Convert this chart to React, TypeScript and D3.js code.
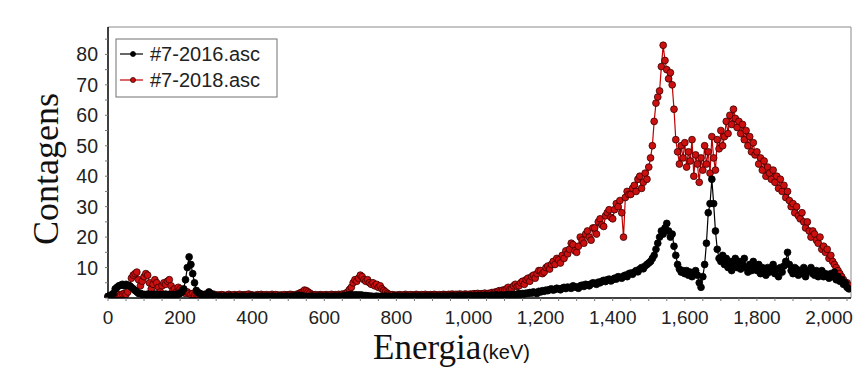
import * as d3 from 'd3';
import { useMemo } from 'react';

// energy channels (keV), 5 keV step: 0 .. 2055
const energy: number[] = d3.range(0, 2060, 5);

// #7-2016.asc counts, one row = 100 keV
const counts2016: number[] = [
  0.5, 0.8, 1, 1.5, 3, 3.5, 4, 4.2, 4.5, 4, 4.5, 4.2, 4, 3.5, 3, 2.5, 2, 1.5, 1.5, 1.2,
  1.2, 1, 1.3, 1, 1.2, 1, 1.3, 1.1, 1, 1.2, 1, 1.1, 1.3, 1, 1.2, 1, 1.1, 1, 1.3, 1.2,
  1.5, 2, 3, 6, 10, 13.5, 11, 8, 5, 2.5, 1.8, 1.5, 1.2, 1, 1, 1.2, 2, 1.5, 1.2, 0.8,
  0.6, 0.5, 0.6, 0.5, 0.4, 0.6, 0.5, 0.5, 0.6, 0.4, 0.5, 0.6, 0.5, 0.4, 0.5, 0.6, 0.5, 0.5, 0.4, 0.6,
  0.6, 0.5, 0.6, 0.5, 0.4, 0.6, 0.5, 0.5, 0.6, 0.4, 0.5, 0.6, 0.5, 0.4, 0.5, 0.6, 0.5, 0.5, 0.4, 0.6,
  0.5, 0.5, 0.6, 0.5, 0.7, 0.8, 0.9, 0.8, 0.6, 0.5, 0.5, 0.4, 0.5, 0.6, 0.5, 0.4, 0.5, 0.6, 0.5, 0.5,
  0.5, 0.6, 0.5, 0.5, 0.4, 0.5, 0.6, 0.5, 0.6, 0.5, 0.6, 0.7, 0.8, 0.9, 1, 1, 0.9, 1, 1, 0.9,
  1, 0.9, 0.8, 0.8, 0.7, 0.6, 0.6, 0.5, 0.5, 0.6, 0.5, 0.5, 0.4, 0.5, 0.6, 0.5, 0.5, 0.4, 0.5, 0.6,
  0.5, 0.6, 0.5, 0.4, 0.5, 0.6, 0.5, 0.5, 0.4, 0.5, 0.6, 0.5, 0.5, 0.6, 0.4, 0.5, 0.6, 0.5, 0.6, 0.5,
  0.6, 0.5, 0.5, 0.6, 0.4, 0.5, 0.6, 0.5, 0.6, 0.5, 0.6, 0.7, 0.6, 0.5, 0.6, 0.7, 0.6, 0.7, 0.6, 0.7,
  0.6, 0.7, 0.7, 0.6, 0.8, 0.7, 0.7, 0.8, 0.7, 0.9, 0.8, 0.7, 0.8, 0.9, 0.8, 1, 0.9, 0.8, 1, 0.9,
  0.8, 1, 1.1, 0.9, 1.2, 1.1, 1, 1.3, 1.4, 1.2, 1.5, 1.3, 1.6, 1.5, 1.8, 1.6, 2, 1.7, 1.5, 2.2,
  2, 2.4, 2.2, 2.6, 2.4, 2.8, 3, 2.6, 2.8, 3.2, 3, 2.7, 3.2, 3.5, 3.1, 3.6, 3.4, 3.2, 4, 3.7,
  3.5, 3.2, 4, 4.2, 3.8, 4.5, 4.3, 4, 4.6, 5, 4.8, 4.5, 5.2, 5, 5.5, 5.8, 5.4, 6, 6.2, 5.6,
  6, 6.5, 6.2, 7, 6.8, 6.5, 7.2, 7.5, 7, 8, 8.2, 7.8, 8.5, 9, 8.6, 9.5, 10, 9.6, 10.5, 11,
  11.5, 12, 13, 14, 16, 18, 20, 22, 21, 23, 24.5, 22, 20, 21, 17, 14, 11, 9.5, 8.5, 9,
  8, 9, 7.5, 8.5, 7, 8, 9, 7.5, 5, 3.5, 7, 11, 18, 28, 31, 39, 31, 22, 16, 13,
  12, 14, 11, 13, 10, 12, 9, 11, 13, 10, 12, 9.5, 11, 13, 10, 8.5, 11, 9, 12, 10,
  9, 11, 8, 10, 9.5, 7.5, 10, 8.5, 9, 11, 8, 9.5, 7, 10, 8.5, 10.5, 12, 15, 11, 9,
  8, 10, 9.5, 7.5, 9, 8, 10, 7, 8.5, 9, 10, 8, 7.5, 9, 7, 8.5, 9, 7, 8, 7.5,
  6.5, 8, 7, 8.5, 6, 7, 5.5, 6, 4.5, 5, 3.5, 3,
];

// #7-2018.asc counts, one row = 100 keV
const counts2018: number[] = [
  0.5, 0.6, 0.8, 1, 1, 1.2, 1.2, 1, 1.3, 1.5, 1.2, 2, 4, 6.5, 7.5, 8, 8.5, 6, 4, 5.5,
  7, 8, 7.5, 5, 3, 4.5, 6, 5, 3.5, 2, 4, 5, 4.5, 5.5, 6, 4, 2.5, 3, 2, 3.5,
  3, 2.5, 2, 1.5, 2, 1.5, 1.2, 1.5, 1, 1.2, 1, 1.2, 1, 0.9, 1.3, 1, 1.1, 0.9, 1, 1.2,
  0.8, 1, 0.9, 1.1, 1, 0.8, 0.9, 1.2, 1, 0.8, 1.1, 0.9, 1, 1.2, 0.9, 1, 1.1, 0.8, 1.3, 1,
  1, 0.8, 0.9, 1.1, 1, 1.2, 0.9, 1, 1.1, 0.8, 1, 1.2, 0.9, 1.1, 1, 0.8, 1, 0.9, 1.1, 1,
  1, 1.2, 1.1, 0.9, 1, 1.3, 1.4, 1.8, 2, 2.6, 2.4, 2, 1.6, 1.2, 1, 1.1, 0.9, 1, 1.1, 0.9,
  1, 1.1, 0.9, 1, 1.2, 1, 1.1, 0.9, 1.2, 1, 1.3, 1.2, 1.6, 2, 2.8, 3.5, 5, 6, 5.5, 6.5,
  7.5, 7, 6, 5.5, 6, 5, 4.5, 5, 4, 4.5, 3.5, 4, 3, 2.5, 2, 1.5, 1.2, 1, 1.1, 0.9,
  0.9, 1, 1.1, 0.8, 1, 1.2, 0.9, 1, 1.1, 0.9, 1, 1.2, 1, 0.9, 1.1, 1, 1.2, 0.9, 1, 1.1,
  1, 1.2, 1, 0.9, 1.1, 1, 1.2, 1.1, 1, 1.2, 1.1, 1.3, 1, 1.2, 1.1, 1.3, 1.2, 1, 1.3, 1.2,
  1.1, 1.3, 1.2, 1.4, 1.3, 1.5, 1.2, 1.4, 1.4, 1.6, 1.3, 1.5, 1.5, 1.8, 1.6, 2, 2, 2.4, 2.2, 2.6,
  2.5, 3, 3.5, 2.8, 3, 4, 4.5, 3.8, 4, 5, 5.5, 4.5, 6, 6.5, 5.5, 7, 7.5, 6.5, 8, 9,
  9, 8, 8.5, 10, 10.5, 9.5, 11, 12, 11, 13, 12.5, 11.5, 14, 13, 15.5, 14.5, 16, 18, 17.5, 15.5,
  15, 17, 20, 19, 18, 21, 22, 20, 19, 23, 23, 21, 25, 26, 24, 23.5, 27, 28, 29, 26.5,
  26, 29, 31, 30, 32, 28, 20, 33, 35, 34, 34, 36, 37, 35, 39, 40, 36, 38, 41, 39,
  43, 46, 50, 58, 64, 66, 68, 76, 83, 78, 75, 72, 74, 70, 62, 52, 48, 44, 50, 46,
  51, 43, 48, 45, 52, 40, 47, 44, 38, 46, 42, 50, 44, 48, 41, 53, 46, 42, 52, 49,
  55, 50, 53, 58, 54, 60, 57, 62, 59, 56, 58, 54, 57, 52, 55, 50, 53, 48, 51, 47,
  48, 44, 46, 42, 45, 40, 43, 41, 39, 42, 38, 40, 36, 39, 35, 37, 33, 35, 32, 30,
  31, 28, 30, 27, 26, 28, 25, 23, 25, 22, 20, 22, 21, 19, 18, 20, 16, 17, 15, 16,
  13, 14, 12, 11, 10, 9, 8, 7, 6, 5, 5, 4,
];

const xTicks: number[] = [0, 200, 400, 600, 800, 1000, 1200, 1400, 1600, 1800, 2000];
const yTicks: number[] = [10, 20, 30, 40, 50, 60, 70, 80];

const series = [
  { name: '#7-2018.asc', values: counts2018, line: '#c00000', fill: '#cc1010', stroke: '#3a0000' },
  { name: '#7-2016.asc', values: counts2016, line: '#000000', fill: '#000000', stroke: '#000000' },
];

export default function App() {
  const width = 863;
  const height = 368;
  const margin = { top: 27, right: 12, bottom: 70, left: 108 };
  const innerW = width - margin.left - margin.right;
  const innerH = height - margin.top - margin.bottom;

  const x = useMemo(() => d3.scaleLinear().domain([0, 2061]).range([0, innerW]), [innerW]);
  const y = useMemo(() => d3.scaleLinear().domain([0, 89]).range([innerH, 0]), [innerH]);
  const fmt = d3.format(',');

  const line = d3
    .line<number>()
    .x((_, i) => x(energy[i]))
    .y((d) => y(d));

  const minorX = d3.range(0, 2061, 50);
  const minorY = d3.range(0, 89, 5);
  const font = 'Liberation Sans, Arial, sans-serif';
  const serif = 'Liberation Serif, Times New Roman, serif';

  return (
    <svg width={width} height={height} style={{ position: 'absolute', left: 0, top: 0, background: '#fff' }}>
      <defs>
        <clipPath id="plot">
          <rect x={-4} y={-4} width={innerW + 4} height={innerH + 4} />
        </clipPath>
      </defs>
      <g transform={`translate(${margin.left},${margin.top})`}>
        {/* frame */}
        <line x1={0} x2={innerW} y1={0} y2={0} stroke="#8a8a8a" />
        <line x1={innerW} x2={innerW} y1={0} y2={innerH} stroke="#8a8a8a" />

        <g clipPath="url(#plot)">
          {series.map((s) => (
            <g key={s.name}>
              <path d={line(s.values) || ''} fill="none" stroke={s.line} strokeWidth={1.2} />
              {s.values.map((v, i) => (
                <circle key={i} cx={x(energy[i])} cy={y(v)} r={3.4} fill={s.fill} stroke={s.stroke} strokeWidth={0.8} />
              ))}
            </g>
          ))}
        </g>

        {/* axes */}
        <line x1={0} x2={0} y1={0} y2={innerH} stroke="#000" strokeWidth={1.5} />
        <line x1={0} x2={innerW} y1={innerH} y2={innerH} stroke="#000" strokeWidth={1.5} />
        {minorX.map((t) => (
          <line key={t} x1={x(t)} x2={x(t)} y1={innerH} y2={innerH + 3} stroke="#777" />
        ))}
        {minorY.map((t) => (
          <line key={t} x1={-3} x2={0} y1={y(t)} y2={y(t)} stroke="#777" />
        ))}
        {xTicks.map((t) => (
          <text key={t} x={x(t)} y={innerH + 26} textAnchor="middle" fontFamily={font} fontSize={19} fill="#222">
            {fmt(t)}
          </text>
        ))}
        {yTicks.map((t) => (
          <text key={t} x={-10} y={y(t) + 7} textAnchor="end" fontFamily={font} fontSize={19.5} fill="#222">
            {t}
          </text>
        ))}

        {/* legend */}
        <g transform="translate(8,12)">
          <rect x={0} y={0} width={161} height={58} fill="#fff" stroke="#707070" />
          {[series[1], series[0]].map((s, i) => (
            <g key={s.name} transform={`translate(0,${15 + i * 26})`}>
              <line x1={4} x2={27} y1={0} y2={0} stroke={s.line} strokeWidth={1.2} />
              <circle cx={17} cy={0} r={2.5} fill={s.fill} stroke={s.stroke} strokeWidth={0.8} />
              <text x={34} y={7} fontFamily={font} fontSize={20} fill="#222">
                {s.name}
              </text>
            </g>
          ))}
        </g>
      </g>

      {/* axis titles */}
      <text transform="translate(58,169) rotate(-90)" textAnchor="middle" fontFamily={serif} fontSize={36} fill="#111">
        Contagens
      </text>
      <text x={373} y={359} fontFamily={serif} fontSize={35} fill="#111">
        Energia
        <tspan fontFamily={font} fontSize={20} dx={1}>(keV)</tspan>
      </text>
    </svg>
  );
}
